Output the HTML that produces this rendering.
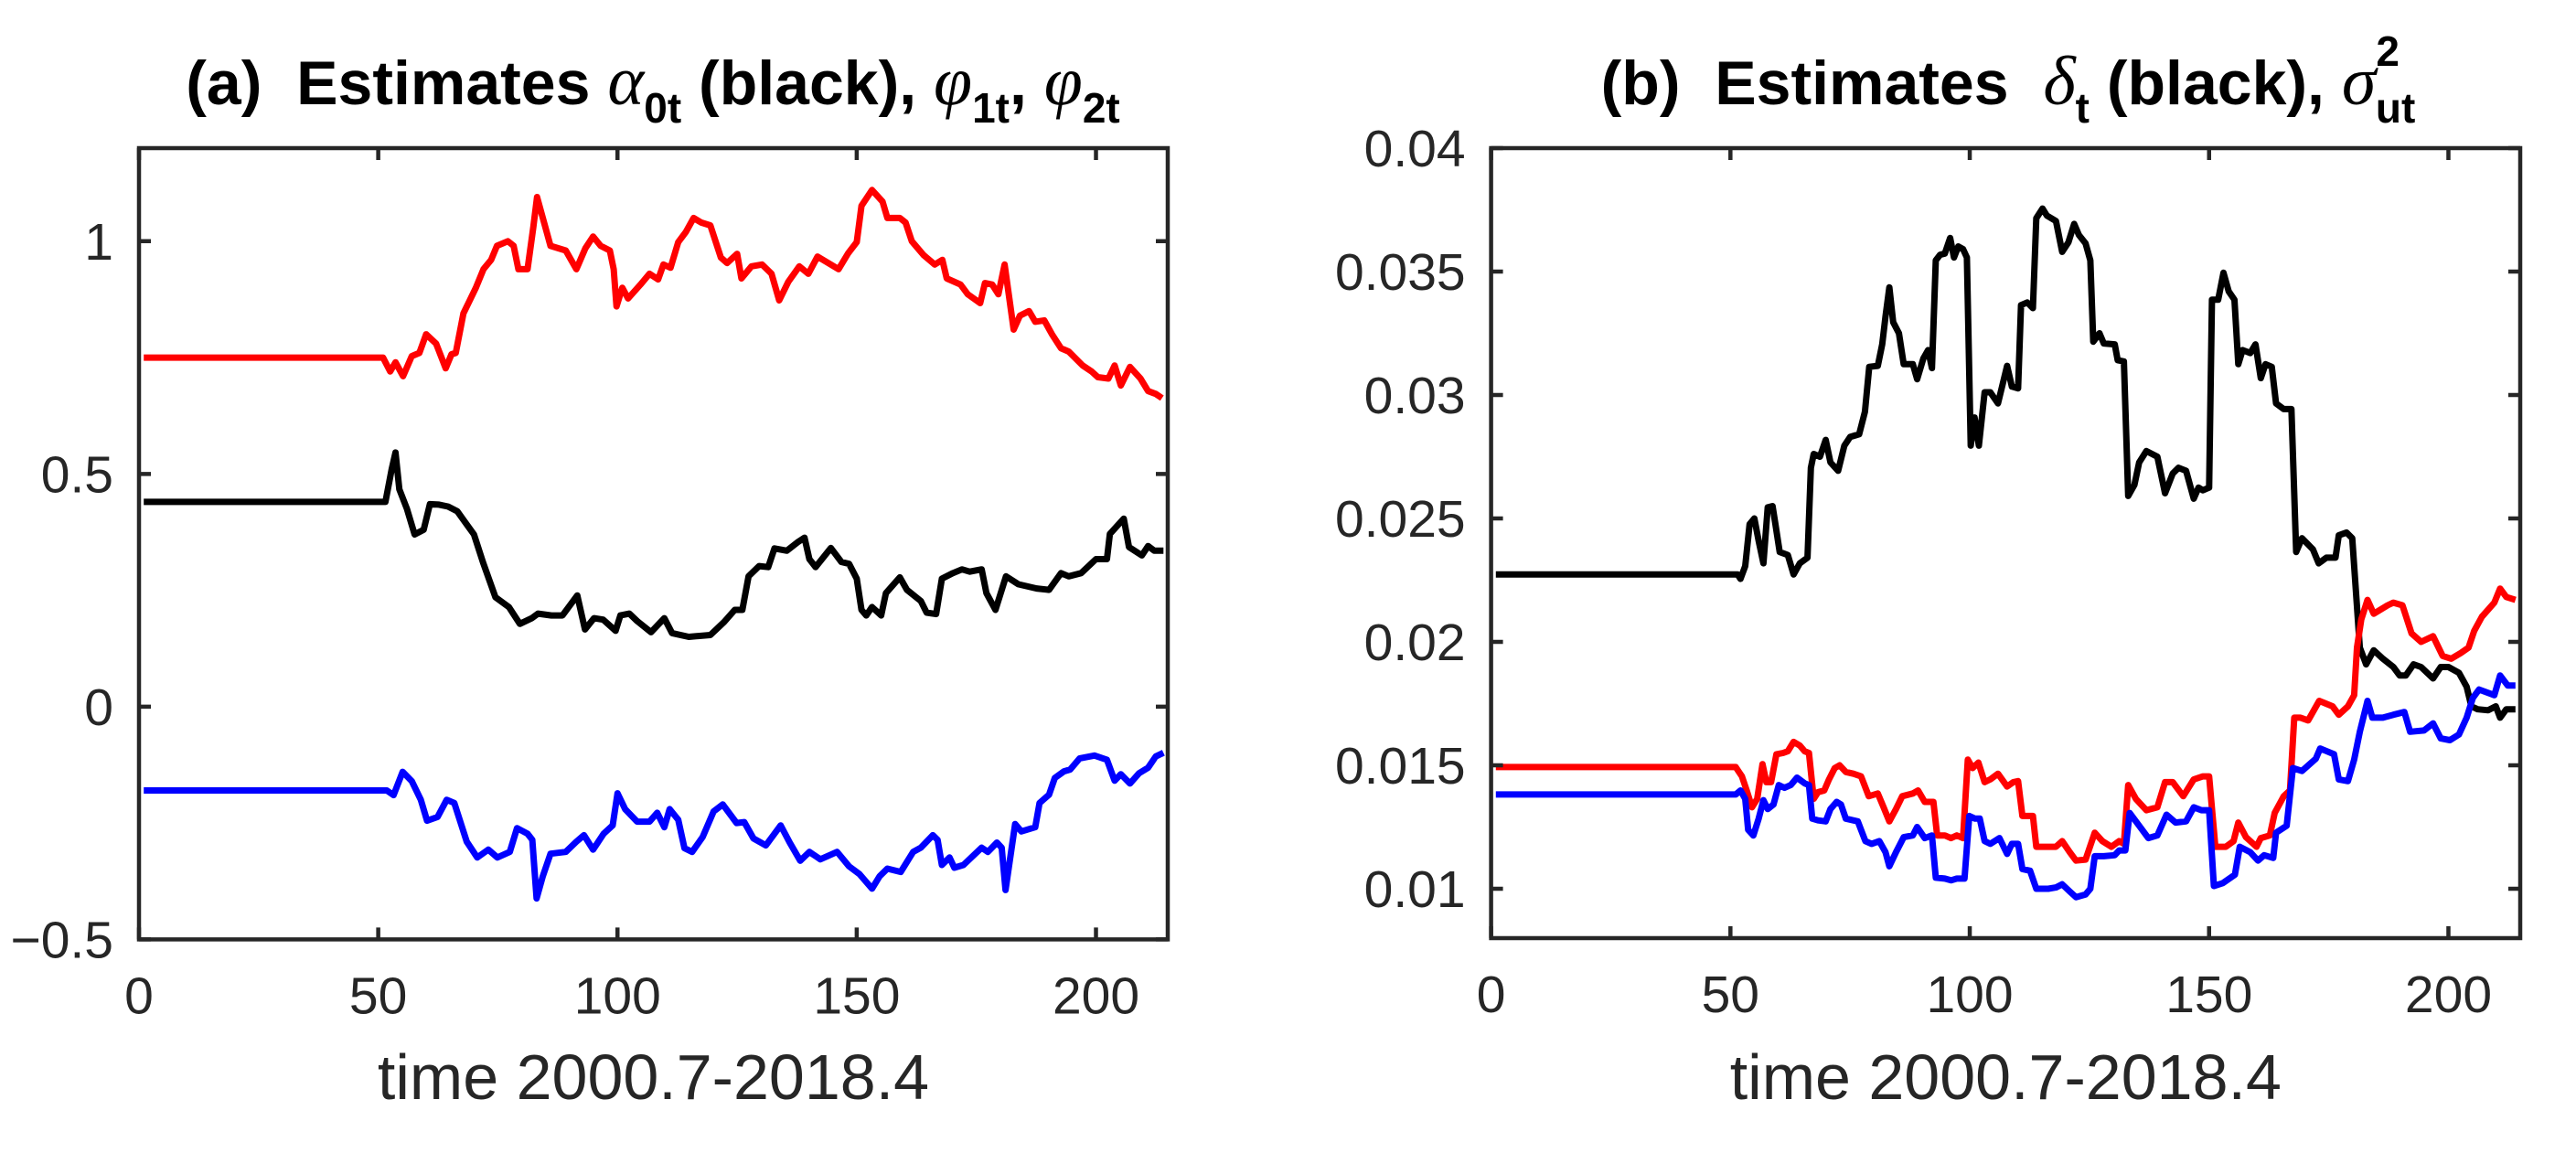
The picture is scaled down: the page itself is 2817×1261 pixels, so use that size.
<!DOCTYPE html>
<html>
<head>
<meta charset="utf-8">
<style>
html,body{margin:0;padding:0;background:#fff;}
svg{display:block;}
text{font-family:"Liberation Sans",Arial,sans-serif;fill:#262626;}
</style>
</head>
<body>
<svg id="fig" width="2817" height="1261" viewBox="0 0 2817 1261" xmlns="http://www.w3.org/2000/svg">
  <rect x="0" y="0" width="2817" height="1261" fill="#fff"/>
  <g id="panelA"></g>
  <g id="panelB"></g>
  <text x="714" y="114" text-anchor="middle" font-size="68" font-weight="bold" style="fill:#000">(a)&#160;&#160;Estimates <tspan font-family="Liberation Serif, serif" font-style="italic" font-weight="normal" font-size="76">α</tspan><tspan font-size="46" dy="20">0t</tspan><tspan dy="-20"> (black), </tspan><tspan font-family="Liberation Serif, serif" font-style="italic" font-weight="normal" font-size="76">φ</tspan><tspan font-size="46" dy="20">1t</tspan><tspan dy="-20">, </tspan><tspan font-family="Liberation Serif, serif" font-style="italic" font-weight="normal" font-size="76">φ</tspan><tspan font-size="46" dy="20">2t</tspan></text>
  <text x="2196" y="114" text-anchor="middle" font-size="68" font-weight="bold" style="fill:#000">(b)&#160;&#160;Estimates&#160;&#160;<tspan font-family="Liberation Serif, serif" font-style="italic" font-weight="normal" font-size="76">δ</tspan><tspan font-size="46" dy="20">t</tspan><tspan dy="-20"> (black), </tspan><tspan font-family="Liberation Serif, serif" font-style="italic" font-weight="normal" font-size="76">σ</tspan><tspan font-size="46" dy="-42">2</tspan><tspan font-size="46" dx="-26" dy="62">ut</tspan></text>
</svg>
<script>
// ---- Panel (a) data: [time, value] ----
const aRed = [[1,0.75],[51,0.75],[52.5,0.72],[53.6,0.74],[55.2,0.71],[57,0.753],[58.6,0.76],[60,0.80],[62.1,0.78],[64.1,0.727],[65.3,0.757],[66.2,0.76],[67.8,0.845],[70.4,0.90],[72,0.94],[73.6,0.96],[74.8,0.99],[77.1,1.0],[78.3,0.99],[79.3,0.94],[81.2,0.94],[82.4,1.03],[83.2,1.095],[84.4,1.05],[86,0.99],[89.2,0.98],[91.4,0.94],[93.3,0.985],[94.9,1.01],[96.5,0.99],[98.4,0.98],[99.2,0.94],[99.8,0.86],[101,0.90],[102.2,0.877],[104.8,0.907],[106.7,0.93],[108.5,0.918],[109.6,0.95],[111.1,0.943],[112.7,0.998],[114.3,1.02],[115.9,1.05],[117.5,1.04],[119.4,1.034],[121.6,0.965],[122.9,0.953],[125,0.973],[125.9,0.92],[128,0.946],[130.2,0.95],[132.2,0.93],[133.8,0.873],[135.7,0.913],[138,0.946],[139.9,0.93],[141.8,0.967],[146.2,0.94],[148.2,0.974],[150,0.998],[151,1.076],[153.2,1.11],[155.4,1.085],[156.4,1.05],[159,1.05],[160.2,1.04],[161.5,1.0],[164,0.97],[166.3,0.95],[167.9,0.96],[168.8,0.92],[171.7,0.907],[173.2,0.886],[175.8,0.867],[176.8,0.91],[178.3,0.907],[179.6,0.886],[180.9,0.95],[182.8,0.81],[184.1,0.84],[186,0.85],[187.3,0.827],[189.2,0.83],[190.8,0.8],[192.7,0.77],[194.3,0.763],[197.2,0.733],[199.1,0.72],[200.4,0.708],[202.6,0.705],[203.9,0.733],[205.2,0.69],[207.1,0.73],[209.3,0.705],[210.9,0.678],[212.5,0.672],[213.8,0.663]];
const aBlack = [[1,0.44],[51.5,0.44],[52.8,0.51],[53.6,0.546],[54.4,0.467],[56,0.425],[57.6,0.37],[59.5,0.38],[60.8,0.435],[62.7,0.434],[64.6,0.43],[66.5,0.42],[70,0.37],[71.9,0.31],[74.5,0.235],[77.3,0.214],[79.6,0.178],[82.1,0.19],[83.4,0.2],[86.2,0.196],[88.5,0.196],[91.6,0.239],[93.2,0.166],[95.1,0.19],[97,0.187],[99.6,0.163],[100.6,0.196],[102.5,0.2],[104.1,0.184],[107,0.16],[109.8,0.19],[111.4,0.158],[114.9,0.15],[119.4,0.154],[122.3,0.182],[124.5,0.208],[126.1,0.208],[127.4,0.28],[129.6,0.302],[131.5,0.30],[132.8,0.34],[135.4,0.335],[137.6,0.353],[139.1,0.363],[140.1,0.317],[141.4,0.30],[144.6,0.341],[146.8,0.311],[148.4,0.307],[150,0.275],[151,0.208],[152,0.196],[153.2,0.214],[155.1,0.196],[156.1,0.244],[159,0.278],[160.5,0.251],[163.4,0.227],[164.6,0.202],[166.6,0.199],[167.8,0.275],[170.1,0.287],[172,0.295],[173.6,0.29],[176.1,0.295],[177.1,0.244],[179,0.208],[181.2,0.28],[183.8,0.263],[187.6,0.254],[190.2,0.251],[192.7,0.287],[194.3,0.28],[196.9,0.287],[200,0.317],[202.3,0.317],[202.9,0.371],[205.8,0.404],[206.9,0.343],[209.6,0.325],[210.9,0.345],[212.2,0.335],[214.1,0.335]];
const aBlue = [[1,-0.18],[51.8,-0.18],[53.2,-0.19],[55.1,-0.14],[57,-0.16],[58.9,-0.2],[60.2,-0.245],[62.4,-0.237],[64.3,-0.2],[65.9,-0.207],[68.5,-0.29],[70.7,-0.324],[73,-0.307],[74.9,-0.324],[77.5,-0.312],[79,-0.261],[81.2,-0.273],[82.2,-0.286],[83.1,-0.412],[84.4,-0.364],[86,-0.316],[89.2,-0.312],[91.4,-0.29],[93,-0.276],[94.9,-0.307],[97.1,-0.273],[99,-0.255],[100,-0.186],[101.6,-0.22],[104.1,-0.247],[106.7,-0.247],[108.3,-0.228],[109.8,-0.259],[110.9,-0.22],[112.7,-0.243],[114,-0.304],[115.6,-0.312],[117.8,-0.28],[120.1,-0.225],[122,-0.21],[124.9,-0.25],[126.5,-0.248],[128.4,-0.283],[131,-0.298],[134.1,-0.255],[136,-0.292],[138.2,-0.331],[140.1,-0.312],[142.4,-0.328],[145.9,-0.312],[148.4,-0.343],[150.6,-0.36],[153.2,-0.391],[154.8,-0.364],[156.4,-0.348],[159.2,-0.355],[161.8,-0.312],[163.4,-0.303],[165.9,-0.276],[166.9,-0.286],[167.8,-0.34],[169.4,-0.324],[170.4,-0.346],[172.3,-0.34],[176.1,-0.303],[177.4,-0.312],[179.3,-0.292],[180.3,-0.303],[181.1,-0.394],[183.1,-0.252],[184.4,-0.268],[187.3,-0.259],[188.2,-0.207],[190.2,-0.189],[191.4,-0.153],[193.3,-0.139],[194.6,-0.135],[196.6,-0.111],[199.7,-0.105],[202.3,-0.114],[203.9,-0.159],[205.2,-0.145],[207.1,-0.165],[209,-0.143],[210.9,-0.131],[212.5,-0.107],[214.1,-0.099]];
const aXTicks = [0,50,100,150,200];
const aYTicks = [-0.5,0,0.5,1];
const aYTickLabels = ["\u22120.5","0","0.5","1"];

// ---- Panel (b) data ----
const bBlack = [[1,0.02273],[51.5,0.02273],[52.1,0.02255],[53.1,0.02307],[54,0.02477],[55,0.0250],[55.9,0.02409],[56.9,0.02318],[57.8,0.02545],[58.8,0.0255],[59.4,0.02477],[60.3,0.02364],[62,0.02352],[63.2,0.02273],[64.5,0.02318],[66.1,0.02341],[66.8,0.02705],[67.4,0.02761],[68.7,0.0275],[69.9,0.02818],[70.9,0.02727],[72.5,0.02693],[73.8,0.02795],[75,0.0283],[76.9,0.02841],[78.1,0.02932],[79,0.03114],[80.8,0.03118],[81.7,0.03205],[82.4,0.03318],[83.2,0.03436],[84,0.03295],[85.2,0.0325],[86.2,0.03125],[88.1,0.03125],[89,0.03064],[90.3,0.03148],[91.3,0.03182],[92.1,0.03109],[92.9,0.03545],[93.8,0.03568],[94.8,0.03573],[95.9,0.03636],[96.7,0.03557],[97.6,0.03602],[98.6,0.03591],[99.4,0.03557],[100.2,0.02795],[101,0.02909],[101.9,0.02795],[103.1,0.03011],[104.3,0.03011],[105.9,0.02966],[107.8,0.03118],[108.8,0.03034],[110.1,0.03027],[110.7,0.03364],[112,0.03375],[113.2,0.03352],[113.9,0.03716],[115.2,0.03755],[116.1,0.03727],[118,0.03705],[119.3,0.0358],[120.6,0.03618],[121.8,0.03693],[122.8,0.03648],[124.2,0.03614],[125.2,0.03545],[125.8,0.03216],[127.1,0.0325],[128,0.03209],[130.3,0.03205],[130.9,0.03141],[132.2,0.03136],[133.1,0.02591],[134.4,0.02636],[135.4,0.02727],[136.9,0.02773],[139.2,0.0275],[140.8,0.02602],[142.4,0.02682],[143.6,0.02705],[145.2,0.02693],[146.8,0.0258],[147.8,0.02625],[148.7,0.02614],[150,0.02625],[150.6,0.03386],[151.9,0.03386],[153,0.03495],[154.1,0.0342],[155.3,0.03386],[156.1,0.03125],[157,0.03182],[158.6,0.0317],[159.7,0.03205],[160.8,0.03068],[161.8,0.03125],[163.1,0.03114],[164,0.02966],[165.6,0.02943],[167.2,0.02943],[168.2,0.02364],[169.4,0.0242],[171.7,0.02375],[172.9,0.02318],[174.5,0.02341],[176.4,0.02341],[177.1,0.02432],[178.7,0.02443],[179.9,0.0242],[181.5,0.01977],[182.8,0.01909],[184.4,0.01966],[186.3,0.01932],[188.5,0.01898],[189.8,0.01864],[191.1,0.01864],[192.7,0.01909],[194.3,0.01898],[196.8,0.01852],[198.4,0.01898],[200,0.01898],[202.2,0.01875],[203.8,0.01818],[204.8,0.01739],[206.1,0.01727],[208.3,0.01723],[209.9,0.01739],[210.8,0.01693],[212.1,0.01727],[214,0.01727]];
const bRed = [[1,0.01493],[51.1,0.01493],[52.4,0.01455],[53.4,0.01398],[54.5,0.0133],[55.6,0.01364],[56.7,0.01505],[57.5,0.01432],[58.5,0.01432],[59.6,0.01545],[61,0.0155],[62,0.01557],[63.2,0.01595],[64.5,0.0158],[65.5,0.01557],[66.4,0.0155],[67.4,0.01364],[68.3,0.01391],[69.6,0.01398],[70.6,0.01443],[71.8,0.01489],[72.8,0.015],[74.1,0.01473],[75.7,0.01466],[77.3,0.01455],[78.9,0.01375],[80.8,0.01386],[82,0.0133],[83.2,0.01273],[84.6,0.01323],[85.9,0.01375],[88.1,0.01386],[89.2,0.01398],[90.6,0.01352],[92.4,0.01352],[93.2,0.01216],[94.8,0.01216],[96.1,0.01205],[97.3,0.01216],[98.6,0.01205],[99.6,0.01523],[100.6,0.01489],[101.8,0.01511],[103.1,0.01432],[104.3,0.01443],[105.9,0.01466],[107.8,0.01414],[109.1,0.01432],[110.1,0.01436],[111,0.01295],[113.2,0.01295],[113.9,0.0117],[116.1,0.0117],[118,0.0117],[119.3,0.01193],[120.9,0.01148],[122.2,0.01114],[124.2,0.01118],[126.1,0.01227],[127.7,0.01193],[129.6,0.0117],[131.2,0.01193],[132.2,0.01182],[133.1,0.0142],[134.7,0.01364],[136.9,0.01318],[139.2,0.0133],[140.8,0.01432],[142.4,0.01432],[144.6,0.01375],[146.8,0.01443],[148.7,0.01455],[150,0.01455],[151.3,0.0117],[153.5,0.0117],[155.1,0.01193],[156.1,0.01268],[157.7,0.01209],[159.9,0.0117],[160.8,0.01205],[162.7,0.01216],[163.7,0.01307],[165.6,0.01375],[166.9,0.01398],[167.8,0.01693],[169.1,0.01693],[170.7,0.01682],[173,0.01761],[175.8,0.01739],[177.1,0.01705],[179,0.01739],[180.3,0.01784],[180.9,0.01977],[181.8,0.02091],[183.1,0.0217],[184.4,0.02114],[187.3,0.02148],[188.5,0.02159],[190.4,0.02148],[192.3,0.02034],[194.3,0.02],[196.8,0.02023],[198.8,0.01943],[200.6,0.01932],[202.6,0.01955],[204.2,0.01977],[205.4,0.02045],[207,0.02102],[209.6,0.02159],[210.8,0.02216],[212.1,0.02182],[214,0.0217]];
const bBlue = [[1,0.01382],[51.1,0.01382],[52.1,0.01398],[53.1,0.01364],[53.7,0.01239],[54.8,0.01216],[55.9,0.01284],[56.9,0.01359],[57.8,0.01323],[59,0.01341],[60.1,0.0142],[61.3,0.01409],[62.6,0.0142],[63.9,0.0145],[65.5,0.01427],[66.4,0.0142],[67.1,0.01284],[68.3,0.01277],[69.9,0.01273],[70.9,0.01323],[72.2,0.01352],[73.1,0.01341],[74.1,0.01284],[76.6,0.01273],[78.2,0.01193],[79.5,0.01182],[81.1,0.01193],[82.4,0.01148],[83.2,0.01091],[84.6,0.01148],[86.2,0.01209],[88.1,0.01216],[89,0.0125],[90.6,0.01205],[92.1,0.01216],[92.9,0.01045],[94.8,0.01041],[96.1,0.01034],[97.3,0.01041],[98.9,0.01041],[99.9,0.01295],[101.1,0.01284],[102.1,0.01284],[103.1,0.01193],[104.3,0.01182],[106.2,0.01205],[107.8,0.01141],[108.8,0.01182],[110.1,0.01182],[111,0.0108],[112.6,0.01073],[113.9,0.01],[116.4,0.01],[118,0.01005],[119.3,0.01018],[120.9,0.00989],[122.2,0.00966],[124.2,0.00977],[125.2,0.01],[126.1,0.01132],[128,0.01132],[130.3,0.01136],[131.2,0.01155],[132.5,0.01155],[133.4,0.01307],[135.4,0.01255],[137.3,0.01205],[139.2,0.01216],[141.1,0.013],[143,0.01268],[145.2,0.01273],[146.8,0.0133],[148.4,0.01318],[150,0.01318],[151,0.01011],[152.9,0.01023],[155.4,0.01057],[156.4,0.0117],[158.6,0.01148],[160.2,0.01114],[161.5,0.01136],[163.4,0.01125],[164,0.01227],[166.2,0.01255],[167.5,0.01489],[169.4,0.01477],[172.3,0.01527],[173.2,0.01568],[176.1,0.01545],[177.1,0.01443],[179,0.01436],[180.3,0.01523],[181.5,0.01636],[183.1,0.01761],[184.1,0.01693],[186.3,0.01693],[188.5,0.01705],[190.8,0.01716],[192,0.01636],[194.9,0.01641],[196.8,0.0167],[198.4,0.01609],[200.3,0.01602],[202.2,0.01625],[203.8,0.01693],[205.1,0.01773],[206.4,0.01807],[209.6,0.01784],[210.8,0.01864],[212.4,0.01823],[214,0.01823]];
const bXTicks = [0,50,100,150,200];
const bYTicks = [0.01,0.015,0.02,0.025,0.03,0.035,0.04];
const bYTickLabels = ["0.01","0.015","0.02","0.025","0.03","0.035","0.04"];

const NS = "http://www.w3.org/2000/svg";
function mk(tag, attrs, parent){
  const e = document.createElementNS(NS, tag);
  for (const k in attrs) e.setAttribute(k, attrs[k]);
  parent.appendChild(e);
  return e;
}

function drawPanel(g, cfg){
  const sx = v => cfg.L + (v - cfg.xmin) / (cfg.xmax - cfg.xmin) * (cfg.R - cfg.L);
  const sy = v => cfg.B - (v - cfg.ymin) / (cfg.ymax - cfg.ymin) * (cfg.B - cfg.T);
  cfg.series.forEach(s => {
    const d = s.data.map((p,i) => (i ? "L" : "M") + sx(p[0]).toFixed(1) + " " + sy(p[1]).toFixed(1)).join(" ");
    const path = mk("path", {d: d, fill: "none", stroke: s.color, "stroke-width": 7, "stroke-linejoin": "round"}, g);
    
    
  });
  const box = mk("rect", {x: cfg.L, y: cfg.T, width: cfg.R - cfg.L, height: cfg.B - cfg.T, fill: "none", stroke: "#262626", "stroke-width": 4.5}, g);
  
  
  const tl = 13;
  cfg.xticks.forEach(v => {
    const x = sx(v);
    const t1 = mk("path", {d: `M${x} ${cfg.B}V${cfg.B - tl}M${x} ${cfg.T}V${cfg.T + tl}`, stroke: "#262626", "stroke-width": 4.5}, g);
    
    
    const lb = mk("text", {x: x, y: cfg.B + 81, "text-anchor": "middle", "font-size": 57}, g);
    lb.textContent = String(v);
    
    
  });
  cfg.yticks.forEach((v, i) => {
    const y = sy(v);
    const t1 = mk("path", {d: `M${cfg.L} ${y}H${cfg.L + tl}M${cfg.R} ${y}H${cfg.R - tl}`, stroke: "#262626", "stroke-width": 4.5}, g);
    
    
    const lb = mk("text", {x: cfg.L - 28, y: y + 20, "text-anchor": "end", "font-size": 57}, g);
    lb.textContent = cfg.ylabels[i];
    
    
  });
  const xl = mk("text", {x: (cfg.L + cfg.R) / 2, y: 1202, "text-anchor": "middle", "font-size": 70}, g);
  xl.textContent = "time 2000.7-2018.4";
  
  
}

drawPanel(document.getElementById("panelA"), {
  prefix: "panel-a", L: 152, R: 1277, T: 162, B: 1027.4,
  xmin: 0, xmax: 215, ymin: -0.5, ymax: 1.2,
  xticks: aXTicks, yticks: aYTicks, ylabels: aYTickLabels,
  series: [
    {data: aBlack, color: "#000000", name: "alpha-0t-line"},
    {data: aRed, color: "#ff0000", name: "phi-1t-line"},
    {data: aBlue, color: "#0000ff", name: "phi-2t-line"}
  ]
});
drawPanel(document.getElementById("panelB"), {
  prefix: "panel-b", L: 1630.6, R: 2756, T: 162, B: 1026,
  xmin: 0, xmax: 215, ymin: 0.008, ymax: 0.04,
  xticks: bXTicks, yticks: bYTicks, ylabels: bYTickLabels,
  series: [
    {data: bBlack, color: "#000000", name: "delta-t-line"},
    {data: bRed, color: "#ff0000", name: "sigma-red-line"},
    {data: bBlue, color: "#0000ff", name: "sigma-blue-line"}
  ]
});
</script>
</body>
</html>
